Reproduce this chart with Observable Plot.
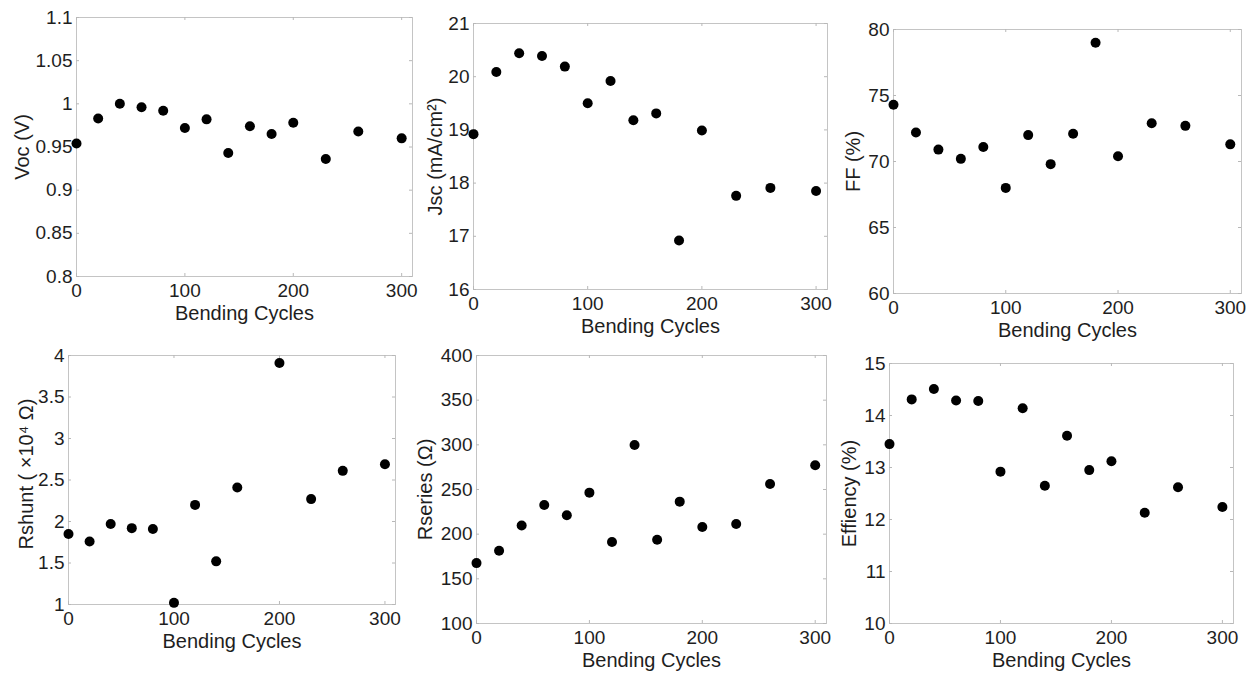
<!DOCTYPE html>
<html><head><meta charset="utf-8">
<script src="https://cdn.jsdelivr.net/npm/d3@7"></script>
<script src="https://cdn.jsdelivr.net/npm/@observablehq/plot@0.6"></script>
<style>
html,body{margin:0;padding:0;background:#fff;}
#chart{position:relative;width:1255px;height:675px;overflow:hidden;background:#fff;}
#chart svg{position:absolute;left:0;top:0;}
</style></head><body><div id="chart"></div>
<script>
// ---- data ----
const cycles = [0, 20, 40, 60, 80, 100, 120, 140, 160, 180, 200, 230, 260, 300];
const cyclesRshunt = [0, 20, 40, 60, 80, 100, 120, 140, 160, 200, 230, 260, 300];
const voc = [0.954, 0.983, 1.000, 0.996, 0.992, 0.972, 0.982, 0.943, 0.974, 0.965, 0.978, 0.936, 0.968, 0.960];
const jsc = [18.92, 20.09, 20.44, 20.39, 20.19, 19.50, 19.92, 19.18, 19.31, 16.92, 18.99, 17.76, 17.91, 17.85];
const ff = [74.3, 72.2, 70.9, 70.2, 71.1, 68.0, 72.0, 69.8, 72.1, 79.0, 70.4, 72.9, 72.7, 71.3];
const rshunt = [1.85, 1.76, 1.97, 1.92, 1.91, 1.02, 2.20, 1.52, 2.41, 3.91, 2.27, 2.61, 2.69];
const rseries = [167.6, 181.4, 209.8, 232.6, 221.1, 246.5, 191.2, 299.9, 193.8, 236.4, 208.0, 211.3, 256.2, 277.1];
const efficiency = [13.45, 14.31, 14.51, 14.29, 14.28, 12.92, 14.14, 12.65, 13.61, 12.95, 13.12, 12.13, 12.62, 12.24];

const xTicks = [0, 100, 200, 300];
const vocTicks = [0.8, 0.85, 0.9, 0.95, 1, 1.05, 1.1];
const jscTicks = [16, 17, 18, 19, 20, 21];
const ffTicks = [60, 65, 70, 75, 80];
const rshuntTicks = [1, 1.5, 2, 2.5, 3, 3.5, 4];
const rseriesTicks = [100, 150, 200, 250, 300, 350, 400];
const effTicks = [10, 11, 12, 13, 14, 15];

const xLabel = "Bending Cycles";
const yLabels = ["Voc (V)", "Jsc (mA/cm²)", "FF (%)", "Rshunt ( ×10⁴ Ω)", "Rseries (Ω)", "Effiency (%)"];

// ---- layout (frame boxes in page pixels) ----
const W = 1255, H = 675;
const FONT = "'Liberation Sans', Arial, Helvetica, sans-serif";
const panels = [
  {xs: cycles, ys: voc, ticks: vocTicks, domain: [0.8, 1.1], label: yLabels[0], box: [76, 17, 412, 276], ldx: -54, ldy: 0},
  {xs: cycles, ys: jsc, ticks: jscTicks, domain: [16, 21], label: yLabels[1], box: [473, 23, 827, 289], ldx: -38, ldy: 0},
  {xs: cycles, ys: ff, ticks: ffTicks, domain: [60, 80], label: yLabels[2], box: [893, 29, 1241, 293], ldx: -40, ldy: 0},
  {xs: cyclesRshunt, ys: rshunt, ticks: rshuntTicks, domain: [1, 4], label: yLabels[3], box: [68, 355, 395, 604], ldx: -42, ldy: -6},
  {xs: cycles, ys: rseries, ticks: rseriesTicks, domain: [100, 400], label: yLabels[4], box: [476, 355, 826, 623], ldx: -51, ldy: 0},
  {xs: cycles, ys: efficiency, ticks: effTicks, domain: [10, 15], label: yLabels[5], box: [889, 363, 1233, 623], ldx: -40, ldy: 0}
];

const chart = document.getElementById("chart");
const fmt = d => String(d);

for (const p of panels) {
  const [l, t, r, b] = p.box;
  const fw = r - l, fh = b - t;
  const pts = p.xs.map((x, i) => ({x, y: p.ys[i]}));
  const svg = Plot.plot({
    width: W, height: H,
    marginLeft: l, marginTop: t, marginRight: W - r, marginBottom: H - b,
    style: {background: "transparent", fontFamily: FONT, fontSize: "19px", color: "#1e1e1e", overflow: "visible"},
    x: {domain: [0, 310]},
    y: {domain: p.domain},
    marks: [
      Plot.frame({stroke: "#c4c4c4", strokeWidth: 1}),
      Plot.tickX(xTicks, {x: d => d, stroke: "#b8b8b8", insetTop: fh - 3}),
      Plot.tickX(xTicks, {x: d => d, stroke: "#b8b8b8", insetBottom: fh - 3}),
      Plot.tickY(p.ticks, {y: d => d, stroke: "#b8b8b8", insetRight: fw - 3}),
      Plot.tickY(p.ticks, {y: d => d, stroke: "#b8b8b8", insetLeft: fw - 3}),
      Plot.axisX(xTicks, {tickSize: 0, tickPadding: 7, label: null, tickFormat: fmt}),
      Plot.axisY(p.ticks, {tickSize: 0, tickPadding: 4, label: null, tickFormat: fmt}),
      Plot.dot(pts, {x: "x", y: "y", r: 5, fill: "#000"}),
      Plot.text([xLabel], {frameAnchor: "bottom", lineAnchor: "top", dy: 29, fontSize: 20, fill: "#1e1e1e"}),
      Plot.text([p.label], {frameAnchor: "left", rotate: -90, dx: p.ldx, dy: p.ldy, lineAnchor: "middle", textAnchor: "middle", fontSize: 20, fill: "#1e1e1e"})
    ]
  });
  chart.appendChild(svg);
}
</script>
</body></html>
